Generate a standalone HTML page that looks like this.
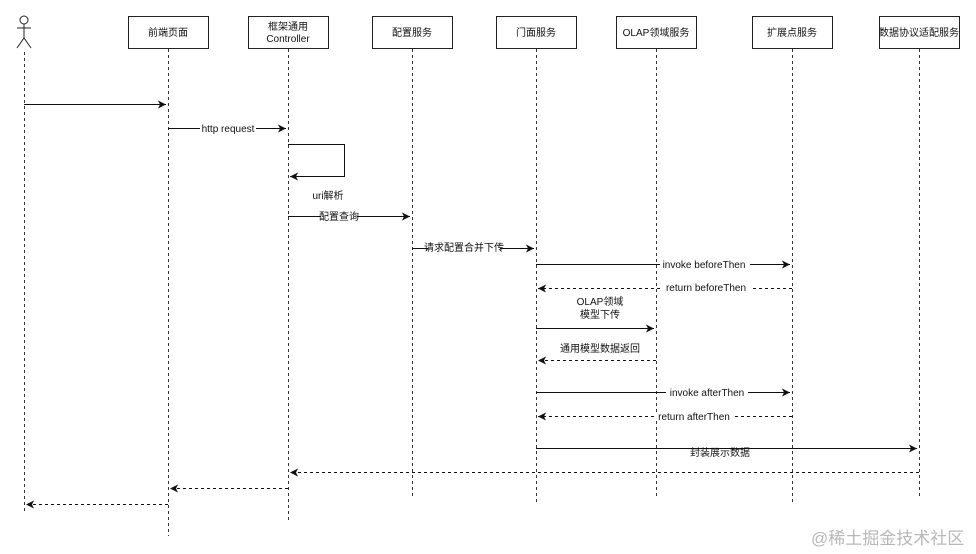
<!DOCTYPE html>
<html><head><meta charset="utf-8"><style>
html,body{margin:0;padding:0;background:#fff;}
svg{display:block;}
text{font-family:"Liberation Sans","Noto Sans CJK SC",sans-serif;font-size:10px;fill:#111;}
</style></head><body>
<svg width="976" height="554" viewBox="0 0 976 554" xmlns="http://www.w3.org/2000/svg">
<defs>
<marker id="a" markerWidth="10" markerHeight="10" refX="8" refY="4" orient="auto" markerUnits="userSpaceOnUse">
<path d="M0,0 L8,4 L0,8 L2,4 Z" fill="#111"/>
</marker>
</defs>
<g stroke="#222" stroke-width="1" fill="none">
<circle cx="24" cy="20" r="4"/>
<line x1="24" y1="24" x2="24" y2="38"/>
<line x1="17" y1="28" x2="31" y2="28"/>
<line x1="24" y1="38" x2="17" y2="48"/>
<line x1="24" y1="38" x2="31" y2="48"/>
</g>
<g fill="#fff" stroke="#222" stroke-width="1">
<rect x="128.5" y="16.5" width="80" height="32"/>
<rect x="248.5" y="16.5" width="80" height="32"/>
<rect x="372.5" y="16.5" width="80" height="32"/>
<rect x="496.5" y="16.5" width="80" height="32"/>
<rect x="616.5" y="16.5" width="80" height="32"/>
<rect x="752.5" y="16.5" width="80" height="32"/>
<rect x="879.5" y="16.5" width="80" height="32"/>
</g>
<g text-anchor="middle">
<text x="168" y="36">前端页面</text>
<text x="288" y="30">框架通用</text>
<text x="288" y="42">Controller</text>
<text x="412" y="36">配置服务</text>
<text x="536" y="36">门面服务</text>
<text x="656" y="36">OLAP领域服务</text>
<text x="792" y="36">扩展点服务</text>
<text x="919" y="36">数据协议适配服务</text>
</g>
<g stroke="#333" stroke-width="1" stroke-dasharray="3,3">
<line x1="24.5" y1="52" x2="24.5" y2="512"/>
<line x1="168.5" y1="49" x2="168.5" y2="536"/>
<line x1="288.5" y1="49" x2="288.5" y2="520"/>
<line x1="412.5" y1="49" x2="412.5" y2="497"/>
<line x1="536.5" y1="49" x2="536.5" y2="502"/>
<line x1="656.5" y1="49" x2="656.5" y2="497"/>
<line x1="792.5" y1="49" x2="792.5" y2="502"/>
<line x1="919.5" y1="49" x2="919.5" y2="497"/>
</g>
<g stroke="#111" stroke-width="1" fill="none">
<line x1="24" y1="104.5" x2="166" y2="104.5" marker-end="url(#a)"/>
<line x1="168" y1="128.5" x2="286" y2="128.5" marker-end="url(#a)"/>
<polyline points="288,144.5 344.5,144.5 344.5,176.5 290,176.5" marker-end="url(#a)"/>
<line x1="288" y1="216.5" x2="410" y2="216.5" marker-end="url(#a)"/>
<line x1="412" y1="248.5" x2="534" y2="248.5" marker-end="url(#a)"/>
<line x1="536" y1="264.5" x2="790" y2="264.5" marker-end="url(#a)"/>
<line x1="792" y1="288.5" x2="538" y2="288.5" stroke-dasharray="3,3" marker-end="url(#a)"/>
<line x1="536" y1="328.5" x2="654" y2="328.5" marker-end="url(#a)"/>
<line x1="656" y1="360.5" x2="538" y2="360.5" stroke-dasharray="3,3" marker-end="url(#a)"/>
<line x1="536" y1="392.5" x2="790" y2="392.5" marker-end="url(#a)"/>
<line x1="792" y1="416.5" x2="538" y2="416.5" stroke-dasharray="3,3" marker-end="url(#a)"/>
<line x1="536" y1="448.5" x2="917" y2="448.5" marker-end="url(#a)"/>
<line x1="919" y1="472.5" x2="290" y2="472.5" stroke-dasharray="3,3" marker-end="url(#a)"/>
<line x1="288" y1="488.5" x2="170" y2="488.5" stroke-dasharray="3,3" marker-end="url(#a)"/>
<line x1="168" y1="504.5" x2="26" y2="504.5" stroke-dasharray="3,3" marker-end="url(#a)"/>
</g>
<g fill="#fff">
<rect x="200" y="124" width="56" height="9"/>
<rect x="321" y="212" width="36" height="9"/>
<rect x="428" y="243" width="72" height="9"/>
<rect x="660" y="260" width="90" height="9"/>
<rect x="662" y="283" width="90" height="9"/>
<rect x="666" y="388" width="82" height="9"/>
<rect x="654" y="412" width="80" height="9"/>
</g>
<g text-anchor="middle">
<text x="228" y="132">http request</text>
<text x="328" y="199">uri解析</text>
<text x="339" y="220">配置查询</text>
<text x="464" y="251">请求配置合并下传</text>
<text x="704" y="268">invoke beforeThen</text>
<text x="706" y="291">return beforeThen</text>
<text x="600" y="305">OLAP领域</text>
<text x="600" y="318">模型下传</text>
<text x="600" y="352">通用模型数据返回</text>
<text x="707" y="396">invoke afterThen</text>
<text x="694" y="420">return afterThen</text>
<text x="720" y="456">封装展示数据</text>
</g>
<text x="811" y="544" style="font-size:17px;fill:#b8b8b8;">@稀土掘金技术社区</text>
</svg>
</body></html>
